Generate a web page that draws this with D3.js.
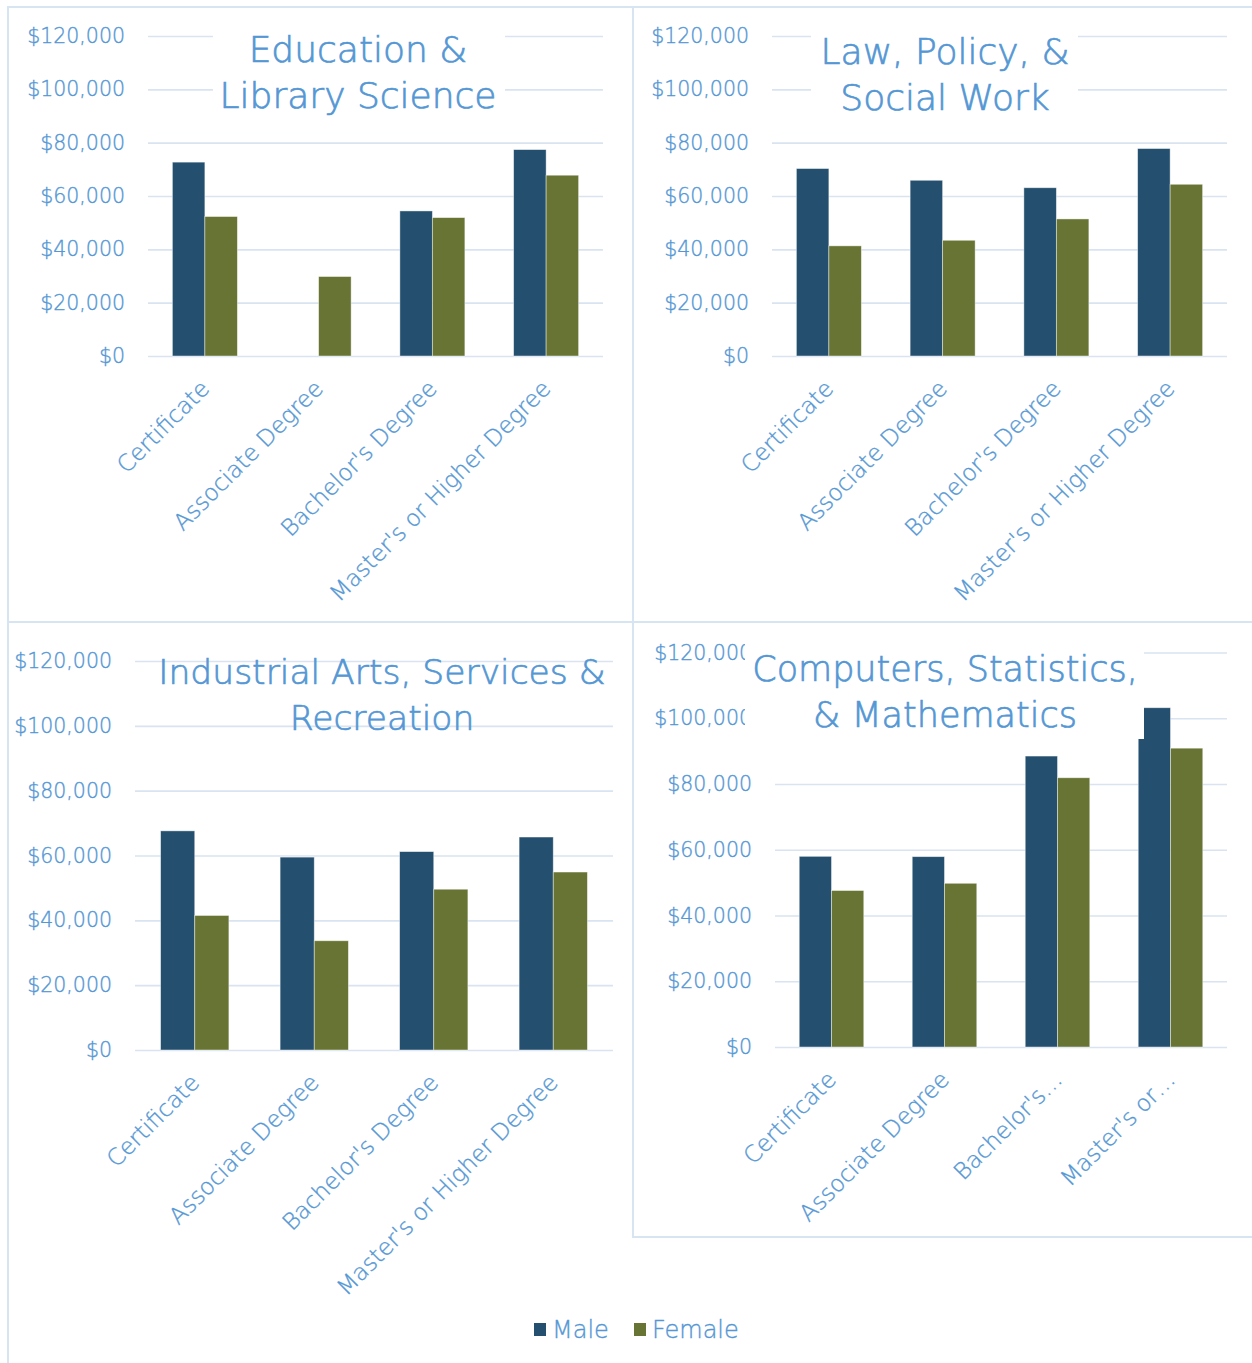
<!DOCTYPE html>
<html>
<head>
<meta charset="utf-8">
<script src="https://cdn.jsdelivr.net/npm/d3@7"></script>
<style>
  html, body { margin: 0; padding: 0; background: #fff; }
  svg { display: block; font-family: "DejaVu Sans", sans-serif; }
</style>
</head>
<body>
<svg id="chart"></svg>
<script>
const categories = ["Certificate", "Associate Degree", "Bachelor's Degree", "Master's or Higher Degree"];
const categoriesShort = ["Certificate", "Associate Degree", "Bachelor's\u2026", "Master's or\u2026"];
const series = ["Male", "Female"];
const yTicks = [0, 20000, 40000, 60000, 80000, 100000, 120000];

const eduTitle = ["Education &", "Library Science"];
const eduMale = [72700, 0, 54400, 77400];
const eduFemale = [52300, 29800, 51900, 67800];

const lawTitle = ["Law, Policy, &", "Social Work"];
const lawMale = [70300, 65900, 63100, 77800];
const lawFemale = [41300, 43400, 51400, 64400];

const indTitle = ["Industrial Arts, Services &", "Recreation"];
const indMale = [67600, 59500, 61200, 65700];
const indFemale = [41500, 33700, 49600, 54900];

const compTitle = ["Computers, Statistics,", "& Mathematics"];
const compMale = [58000, 57900, 88500, 103200];
const compFemale = [47600, 49800, 81900, 90900];

const colors = { Male: "#244f6f", Female: "#677433" };
const textColor = "#5497d4";
const gridColor = "#d9e3f1";
const frameColor = "#d7e4f2";

const width = 1252, height = 1363;
const svg = d3.select("svg#chart").attr("width", width).attr("height", height);

// frame: [x, y, w, h], plot: [left, top, right, bottom]
const panels = [
  {
    title: eduTitle, male: eduMale, female: eduFemale, labels: categories,
    frame: [8, 7, 625, 615], plot: [148, 36, 603, 356],
    titleX: 358, titleY: 62, titleSize: 36, titleBox: [213, 14, 505, 118],
  },
  {
    title: lawTitle, male: lawMale, female: lawFemale, labels: categories,
    frame: [633, 7, 640, 615], plot: [772, 36, 1227, 356],
    titleX: 945, titleY: 64, titleSize: 36, titleBox: [811, 14, 1078, 120],
  },
  {
    title: indTitle, male: indMale, female: indFemale, labels: categories,
    frame: [8, 622, 1257, 760], plot: [135, 661, 613, 1050],
    titleX: 382, titleY: 684, titleSize: 34.5, titleBox: null, legend: true,
  },
  {
    title: compTitle, male: compMale, female: compFemale, labels: categoriesShort,
    frame: [633, 622, 640, 615], plot: [775, 652.5, 1227, 1047],
    titleX: 945, titleY: 681, titleSize: 35, titleBox: [745, 632, 1144, 739],
  },
];

panels.forEach(drawPanel);

// thin font + faint outline, close to the light geometric face of the original
function lightText(sel, size, weight) {
  return sel
    .attr("fill", textColor)
    .attr("stroke", textColor)
    .attr("stroke-width", weight)
    .attr("font-size", size)
    .attr("font-family", "DejaVu Sans")
    .attr("font-weight", 200);
}

function drawPanel({ title, male, female, labels, frame, plot, titleX, titleY, titleSize, titleBox, legend }) {
  const [fx, fy, fw, fh] = frame;
  const [left, top, right, bottom] = plot;
  const g = svg.append("g");

  g.append("rect")
    .attr("x", fx).attr("y", fy).attr("width", fw).attr("height", fh)
    .attr("fill", "#fff")
    .attr("stroke", frameColor)
    .attr("stroke-width", 2);

  const x = d3.scaleBand().domain(categories).range([left, right]);
  const xSub = d3.scaleBand().domain(series).range([0, x.bandwidth()]).paddingOuter(0.75);
  const y = d3.scaleLinear().domain([0, 120000]).range([bottom, top]);

  // gridlines
  g.append("g")
    .attr("transform", `translate(${left},0)`)
    .call(d3.axisLeft(y).tickValues(yTicks).tickSize(-(right - left)).tickFormat(""))
    .call((a) => a.select(".domain").remove())
    .call((a) => a.selectAll("line").attr("stroke", gridColor).attr("stroke-width", 1.6));

  // y labels
  g.append("g")
    .attr("transform", `translate(${left},0)`)
    .call(d3.axisLeft(y).tickValues(yTicks).tickSize(0).tickPadding(23).tickFormat(d3.format("$,")))
    .call((a) => a.select(".domain").remove())
    .call((a) => lightText(a.selectAll("text"), 20.5, 0.35));

  // category labels
  g.append("g")
    .attr("transform", `translate(0,${bottom})`)
    .call(d3.axisBottom(x).tickSize(0).tickFormat((d, i) => labels[i]))
    .call((a) => a.select(".domain").remove())
    .call((a) =>
      lightText(a.selectAll("text"), 23, 0.35)
        .attr("text-anchor", "end")
        .attr("y", 0)
        .attr("dy", 0)
        .attr("transform", "translate(6,34) rotate(-45)")
    );

  // bars
  const rows = categories.map((c, i) => ({ category: c, values: [{ key: "Male", value: male[i] }, { key: "Female", value: female[i] }] }));
  g.append("g")
    .selectAll("g")
    .data(rows)
    .join("g")
    .attr("transform", ({ category }) => `translate(${x(category)},0)`)
    .selectAll("rect")
    .data(({ values }) => values.filter(({ value }) => value > 0))
    .join("rect")
    .attr("x", ({ key }) => xSub(key))
    .attr("width", xSub.bandwidth())
    .attr("y", ({ value }) => y(value))
    .attr("height", ({ value }) => y(0) - y(value))
    .attr("fill", ({ key }) => colors[key])
    .attr("stroke", "rgba(255,255,255,0.55)")
    .attr("stroke-width", 0.8);

  // title
  if (titleBox) {
    const [bx0, by0, bx1, by1] = titleBox;
    g.append("rect")
      .attr("x", bx0).attr("y", by0)
      .attr("width", bx1 - bx0).attr("height", by1 - by0)
      .attr("fill", "#fff");
  }
  const t = lightText(g.append("text"), titleSize, 0.7).attr("text-anchor", "middle");
  title.forEach((line, i) => {
    t.append("tspan").attr("x", titleX).attr("y", titleY + i * 46).text(line);
  });

  if (legend) {
    const cx = fx + 1257 / 2;
    const lg = g.append("g").attr("transform", `translate(${cx},1330)`);
    const items = [
      { key: "Male", x: -102.5 },
      { key: "Female", x: -2.5 },
    ];
    const item = lg.selectAll("g").data(items).join("g").attr("transform", (d) => `translate(${d.x},0)`);
    item.append("rect").attr("x", 0).attr("y", -7).attr("width", 12).attr("height", 13).attr("fill", ({ key }) => colors[key]);
    lightText(item.append("text"), 24, 0.35)
      .attr("x", 18)
      .attr("y", 8)
      .text(({ key }) => key);
  }
}
</script>
</body>
</html>
